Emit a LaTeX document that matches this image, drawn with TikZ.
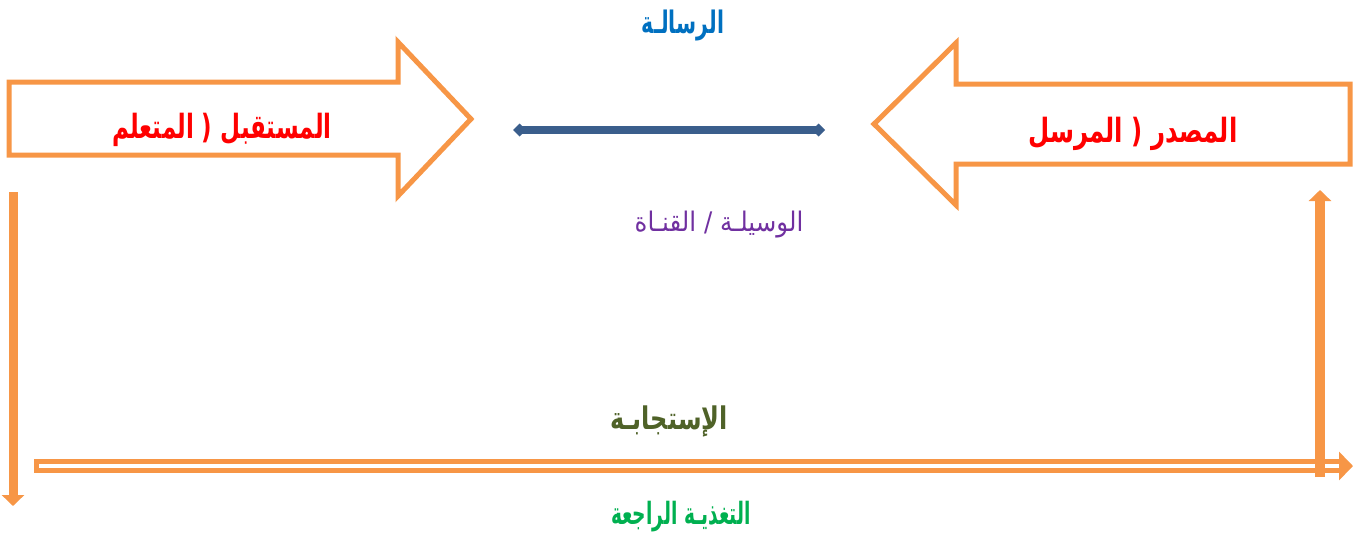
\documentclass[tikz,border=0pt]{standalone}
\usepackage{fontspec}
\usepackage{graphicx}
\usetikzlibrary{arrows.meta}
\newfontfamily\arabicfont[Script=Arabic]{DejaVu Sans}
\TeXXeTstate=1
\definecolor{arOrange}{HTML}{F79646}
\definecolor{msgLine}{HTML}{3A5E8C}
\definecolor{arRed}{HTML}{FF0000}
\definecolor{arBlue}{HTML}{0070C0}
\definecolor{arPurple}{HTML}{7030A0}
\definecolor{arOlive}{HTML}{4F6228}
\definecolor{arGreen}{HTML}{00B050}
\begin{document}
\begin{tikzpicture}[x=1pt,y=-1pt,
  blockarrow/.style={draw=arOrange, line width=5pt, line join=miter, fill=white},
  artext/.style={inner sep=0pt},
  redtext/.style={artext, text=arRed, font=\arabicfont\bfseries\fontsize{23}{27}\selectfont},
  vline/.style={draw=arOrange, line width=9pt, -{Triangle[length=11pt,width=22pt]}},
]
\useasboundingbox (0,0) rectangle (1357,539);
% block arrows
\draw[blockarrow] (9,82) -- (398,82) -- (398,42) -- (471,119) -- (398,196) -- (398,155) -- (9,155) -- cycle;
\draw[blockarrow] (1350,84) -- (956,84) -- (956,43) -- (874,124) -- (956,205) -- (956,164) -- (1350,164) -- cycle;
\node[redtext] (recv) at (222,130) {\scalebox{1}[1.45]{\beginR المستقبل ( المتعلم\endR}};
\node[redtext] (src) at (1133,134) {\scalebox{1.06}[1.45]{\beginR المصدر ( المرسل\endR}};
% message line
\coordinate (m1) at (513,130);
\coordinate (m2) at (825,130);
\draw[draw=msgLine, line width=7.5pt, {Diamond[length=13pt,width=13pt]}-{Diamond[length=13pt,width=13pt]}] (m1) -- (m2);
\node[artext, text=arBlue, font=\arabicfont\bfseries\fontsize{20}{24}\selectfont] (msg) at (683,26) {\scalebox{1.02}[1.55]{\beginR الرسالـة\endR}};
\node[artext, text=arPurple, font=\arabicfont\fontsize{24.5}{29}\selectfont] (chan) at (719,225) {\scalebox{1}[1.1]{\beginR الوسيلـة / القنـاة\endR}};
% feedback loop
\coordinate (h1) at (34,466);
\coordinate (h2) at (1353,466);
\draw[draw=arOrange, line width=14pt, -{Triangle[length=14pt,width=28pt]}] (h1) -- (h2);
\draw[white, line width=4pt, shorten <=5pt, shorten >=14pt] (h1) -- (h2);
\coordinate (lv1) at (13,192);
\coordinate (lv2) at (13,506);
\draw[vline] (lv1) -- (lv2);
\coordinate (rv1) at (1320,477);
\coordinate (rv2) at (1320,190);
\draw[vline, line width=10pt] (rv1) -- (rv2);
\node[artext, text=arOlive, font=\arabicfont\bfseries\fontsize{24}{28}\selectfont] (resp) at (669,421) {\scalebox{1}[1.3]{\beginR الإستجابـة\endR}};
\node[artext, text=arGreen, font=\arabicfont\bfseries\fontsize{18.6}{22}\selectfont] (fb) at (681,517) {\scalebox{1}[1.65]{\beginR التغذيـة الراجعة\endR}};
\end{tikzpicture}
\end{document}
